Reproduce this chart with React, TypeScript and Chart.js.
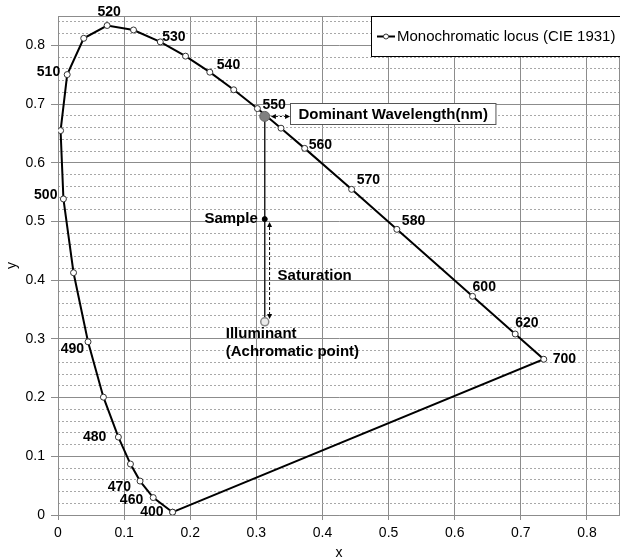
import React, { useEffect, useRef } from 'react';
import { Chart, registerables } from 'chart.js';

Chart.register(...registerables);

// ---- data ----
const seriesLabel = 'Monochromatic locus (CIE 1931)';
const wavelengths = [400, 460, 470, 475, 480, 485, 490, 495, 500, 505, 510, 515, 520, 525, 530, 535, 540, 545, 550, 555, 560, 570, 580, 600, 620, 700];
const locusX = [0.1733, 0.144, 0.1241, 0.1096, 0.0913, 0.0687, 0.0454, 0.0235, 0.0082, 0.0039, 0.0139, 0.0389, 0.0743, 0.1142, 0.1547, 0.1929, 0.2296, 0.2658, 0.3016, 0.3373, 0.3731, 0.4441, 0.5125, 0.627, 0.6915, 0.7347];
const locusY = [0.0048, 0.0297, 0.0578, 0.0868, 0.1327, 0.2007, 0.295, 0.4127, 0.5384, 0.6548, 0.7502, 0.812, 0.8338, 0.8262, 0.8059, 0.7816, 0.7543, 0.7243, 0.6923, 0.6589, 0.6245, 0.5547, 0.4866, 0.3725, 0.3083, 0.2653];
const labeledWavelengths = [400, 460, 470, 480, 490, 500, 510, 520, 530, 540, 550, 560, 570, 580, 600, 620, 700];

const illuminantXY = [0.3127, 0.329];
const sampleXY = [0.3127, 0.504];
const dominantXY = [0.3127, 0.679];
const saturationArrowX = 0.32;
const saturationArrowY = [0.499, 0.334];
const dominantArrowX = [0.322, 0.351];

const axisMin = 0;
const axisMax = 0.85;
const majorStep = 0.1;
const minorStep = 0.02;

const FONT = "'Liberation Sans', Arial, Helvetica, sans-serif";

// label placement (pixels relative to the point): dx, dy, align
const labelPlacement: Record<number, [number, number, CanvasTextAlign]> = {
  400: [-9, 0, 'right'],
  460: [-10, 3, 'right'],
  470: [-9, 6, 'right'],
  480: [-12, 0, 'right'],
  490: [-4, 7, 'right'],
  500: [-6, -4, 'right'],
  510: [-7, -2, 'right'],
  520: [2, -13, 'center'],
  530: [2, -5, 'left'],
  540: [7, -7, 'left'],
  550: [5, -3, 'left'],
  560: [4, -3, 'left'],
  570: [5, -9, 'left'],
  580: [5, -8, 'left'],
  600: [0, -9, 'left'],
  620: [0, -11, 'left'],
  700: [9, 0, 'left'],
};

function drawArrow(ctx: CanvasRenderingContext2D, x1: number, y1: number, x2: number, y2: number, dash: number[]) {
  const ang = Math.atan2(y2 - y1, x2 - x1);
  const c = Math.cos(ang), s = Math.sin(ang);
  const head = 5, hw = 2.5;
  ctx.save();
  ctx.strokeStyle = '#000';
  ctx.fillStyle = '#000';
  ctx.lineWidth = 1;
  ctx.setLineDash(dash);
  ctx.beginPath();
  ctx.moveTo(x1 + head * c, y1 + head * s);
  ctx.lineTo(x2 - head * c, y2 - head * s);
  ctx.stroke();
  ctx.setLineDash([]);
  const tri = (px: number, py: number, dir: number) => {
    const bx = px - dir * head * c, by = py - dir * head * s;
    ctx.beginPath();
    ctx.moveTo(px, py);
    ctx.lineTo(bx - hw * s, by + hw * c);
    ctx.lineTo(bx + hw * s, by - hw * c);
    ctx.closePath();
    ctx.fill();
  };
  tri(x2, y2, 1);
  tri(x1, y1, -1);
  ctx.restore();
}

const isMajor = (v: number) => Math.abs(v * 10 - Math.round(v * 10)) < 1e-6;
const fmt = (v: number) => (isMajor(v) ? String(Math.round(v * 10) / 10) : '');

const annotationPlugin = {
  id: 'cieAnnotations',
  beforeDatasetsDraw(chart: any) {
    const { ctx, chartArea } = chart;
    ctx.save();
    ctx.strokeStyle = '#8c8c8c';
    ctx.lineWidth = 1;
    ctx.beginPath();
    const t = Math.round(chartArea.top) + 0.5;
    const r = Math.round(chartArea.right) - 0.5;
    ctx.moveTo(chartArea.left, t);
    ctx.lineTo(r, t);
    ctx.lineTo(r, chartArea.bottom);
    ctx.stroke();
    ctx.restore();
  },
  afterDatasetsDraw(chart: any) {
    const { ctx, chartArea } = chart;
    const xs = chart.scales.x;
    const ys = chart.scales.y;
    const px = (v: number) => xs.getPixelForValue(v);
    const py = (v: number) => ys.getPixelForValue(v);

    ctx.save();
    // wavelength labels
    ctx.font = `bold 14px ${FONT}`;
    ctx.fillStyle = '#000';
    ctx.textBaseline = 'middle';
    labeledWavelengths.forEach((w) => {
      const i = wavelengths.indexOf(w);
      if (i < 0) return;
      const [dx, dy, align] = labelPlacement[w] || [4, -8, 'left'];
      ctx.textAlign = align;
      ctx.fillText(String(w), px(locusX[i]) + dx, py(locusY[i]) + dy);
    });

    // arrows
    drawArrow(ctx, px(saturationArrowX), py(saturationArrowY[0]), px(saturationArrowX), py(saturationArrowY[1]), [3, 2]);
    const dy = py(dominantXY[1]);
    drawArrow(ctx, px(dominantArrowX[0]), dy, px(dominantArrowX[1]), dy, [2, 2]);

    // annotation texts
    ctx.font = `bold 15px ${FONT}`;
    ctx.textBaseline = 'middle';
    ctx.textAlign = 'right';
    ctx.fillText('Sample', px(sampleXY[0]) - 7, py(sampleXY[1]));
    ctx.textAlign = 'left';
    ctx.fillText('Saturation', px(saturationArrowX) + 8, py(0.407));
    const ix = px(illuminantXY[0]) - 39;
    const iy = py(illuminantXY[1]);
    ctx.fillText('Illuminant', ix, iy + 12);
    ctx.fillText('(Achromatic point)', ix, iy + 30);

    // dominant wavelength box
    const label = 'Dominant Wavelength(nm)';
    const bx = Math.round(px(dominantArrowX[1])) + 0.5;
    const tw = ctx.measureText(label).width;
    const by = Math.round(dy - 13.5) + 0.5;
    ctx.fillStyle = '#fff';
    ctx.fillRect(bx, by, tw + 16, 21);
    ctx.strokeStyle = '#555';
    ctx.lineWidth = 1;
    ctx.strokeRect(bx, by, tw + 16, 21);
    ctx.fillStyle = '#000';
    ctx.fillText(label, bx + 8, dy - 2);

    // legend
    const lx = 371.5, ly = Math.round(chartArea.top) + 0.5, lw = chartArea.right - 371 + 4, lh = 40;
    ctx.fillStyle = '#fff';
    ctx.fillRect(lx, ly, lw, lh);
    ctx.strokeStyle = '#000';
    ctx.strokeRect(lx, ly, lw, lh);
    const cy = ly + 20;
    ctx.strokeStyle = '#000';
    ctx.lineWidth = 2;
    ctx.beginPath();
    ctx.moveTo(377, cy);
    ctx.lineTo(395, cy);
    ctx.stroke();
    ctx.beginPath();
    ctx.arc(386, cy, 2.5, 0, Math.PI * 2);
    ctx.fillStyle = '#fff';
    ctx.fill();
    ctx.lineWidth = 1;
    ctx.strokeStyle = '#333';
    ctx.stroke();
    ctx.fillStyle = '#000';
    ctx.font = `15px ${FONT}`;
    ctx.textAlign = 'left';
    ctx.fillText(chart.data.datasets[0].label, 397, cy);
    ctx.restore();
  },
};

export default function App() {
  const ref = useRef<HTMLCanvasElement>(null);

  useEffect(() => {
    const canvas = ref.current;
    if (!canvas) return;
    const points = wavelengths.map((w, i) => ({ x: locusX[i], y: locusY[i] }));
    const closed = [...points, points[0]];
    const ill = { x: illuminantXY[0], y: illuminantXY[1] };
    const smp = { x: sampleXY[0], y: sampleXY[1] };
    const dom = { x: dominantXY[0], y: dominantXY[1] };

    const tickFont = { size: 14, family: FONT };
    const chart = new Chart(canvas, {
      type: 'scatter',
      data: {
        datasets: [
          {
            label: seriesLabel,
            data: closed,
            showLine: true,
            borderColor: '#000',
            borderWidth: 2,
            pointRadius: 3,
            pointBackgroundColor: '#fff',
            pointBorderColor: '#333',
            pointBorderWidth: 1,
            order: 2,
          },
          {
            label: 'dominant line',
            data: [ill, dom],
            showLine: true,
            borderColor: '#222',
            borderWidth: 1.5,
            pointRadius: 0,
            order: 1,
          },
          {
            label: 'Illuminant',
            data: [ill],
            pointRadius: 4,
            pointBackgroundColor: '#ececec',
            pointBorderColor: '#888',
            pointBorderWidth: 1.5,
            order: 0,
          },
          {
            label: 'Sample',
            data: [smp],
            pointRadius: 2.5,
            pointBackgroundColor: '#000',
            pointBorderColor: '#000',
            pointBorderWidth: 1,
            order: 0,
          },
          {
            label: 'Dominant',
            data: [dom],
            pointRadius: 5,
            pointBackgroundColor: '#808080',
            pointBorderColor: '#666',
            pointBorderWidth: 1,
            order: 0,
          },
        ],
      },
      options: {
        animation: false,
        responsive: false,
        events: [],
        layout: { padding: { top: 16, right: 3, left: 0, bottom: 0 } },
        plugins: { legend: { display: false }, tooltip: { enabled: false } },
        scales: {
          x: {
            type: 'linear',
            position: 'bottom',
            min: axisMin,
            max: axisMax,
            ticks: {
              stepSize: majorStep,
              includeBounds: false,
              autoSkip: false,
              maxRotation: 0,
              padding: 5,
              color: '#000',
              font: tickFont,
              callback: (v: any) => fmt(Number(v)),
            },
            grid: { color: '#8c8c8c', lineWidth: 1, tickLength: 5, tickColor: '#8c8c8c' },
            border: { color: '#8c8c8c', width: 1 },
            title: { display: true, text: 'x', color: '#000', font: { size: 14, family: FONT, lineHeight: 1 }, padding: 0 },
            afterFit: (s: any) => {
              s.height = 45;
            },
          },
          y: {
            type: 'linear',
            position: 'left',
            min: axisMin,
            max: axisMax,
            ticks: {
              stepSize: majorStep,
              includeBounds: false,
              autoSkip: false,
              padding: 6,
              color: '#000',
              font: tickFont,
              callback: (v: any) => fmt(Number(v)),
            },
            grid: { color: '#8c8c8c', lineWidth: 1, tickLength: 7, tickColor: '#8c8c8c' },
            border: { color: '#8c8c8c', width: 1 },
            title: { display: true, text: 'y', color: '#000', font: { size: 14, family: FONT, lineHeight: 1 }, padding: { top: 5, bottom: 0 } },
            afterFit: (s: any) => {
              s.width = 58;
            },
          },
          yMinor: {
            type: 'linear',
            position: 'left',
            min: axisMin,
            max: axisMax,
            ticks: { stepSize: minorStep, includeBounds: false, display: false, autoSkip: false, maxTicksLimit: 100 },
            grid: {
              drawTicks: false,
              lineWidth: 1,
              color: (ctx: any) => (ctx.tick && isMajor(ctx.tick.value) ? 'rgba(0,0,0,0)' : '#a8a8a8'),
            },
            border: { display: false, dash: [2, 2] },
            afterFit: (s: any) => {
              s.width = 0;
            },
          },
        },
      } as any,
      plugins: [annotationPlugin],
    });
    return () => chart.destroy();
  }, []);

  return (
    <div style={{ position: 'fixed', left: 0, top: 0, width: 620, height: 560, overflow: 'hidden', background: '#fff' }}>
      <canvas ref={ref} width={626} height={560} style={{ display: 'block' }} />
    </div>
  );
}
